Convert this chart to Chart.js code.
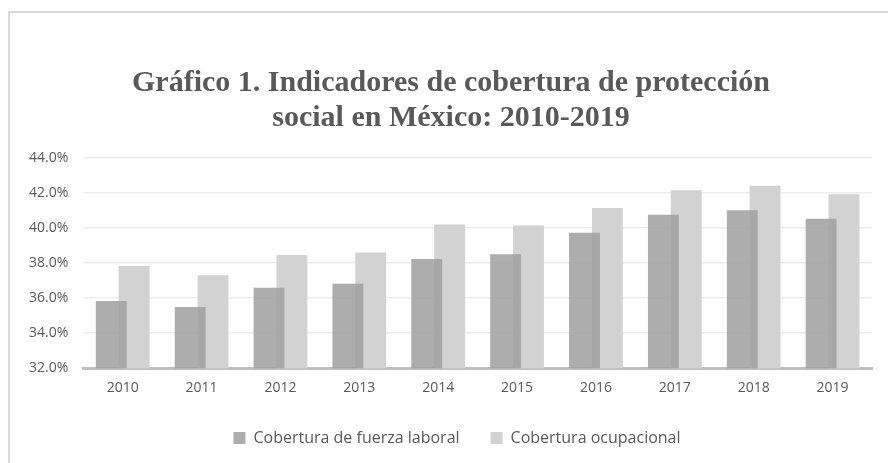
<!DOCTYPE html>
<html>
<head>
<meta charset="utf-8">
<script src="https://cdn.jsdelivr.net/npm/chart.js@4.4.1/dist/chart.umd.min.js"></script>
<style>
  html, body { margin: 0; padding: 0; background: #fff; }
  #wrap { position: relative; width: 888px; height: 463px; }
</style>
</head>
<body>
<div id="wrap"><canvas id="chart"></canvas></div>
<script>
const years = ['2010', '2011', '2012', '2013', '2014', '2015', '2016', '2017', '2018', '2019'];
const fuerzaLaboral = [35.84, 35.50, 36.60, 36.82, 38.24, 38.50, 39.73, 40.76, 41.02, 40.53];
const ocupacional = [37.83, 37.30, 38.46, 38.61, 40.20, 40.15, 41.15, 42.16, 42.41, 41.93];
const titleLines = ['Gráfico 1. Indicadores de cobertura de protección', 'social en México: 2010-2019'];
const seriesNames = ['Cobertura de fuerza laboral', 'Cobertura ocupacional'];

const TXT = '#595959';

// draws the light grey frame (top + left edge) like the original export
const framePlugin = {
    id: 'frame',
    beforeDraw(chart) {
        const c = chart.ctx;
        c.save();
        c.strokeStyle = '#d9d9d9';
        c.lineWidth = 2;
        c.beginPath();
        c.moveTo(9, chart.height);
        c.lineTo(9, 12);
        c.lineTo(chart.width, 12);
        c.stroke();
        c.restore();
    }
};

// title and legend in the original sit a bit right of the canvas centre
const boxNudge = {
    id: 'boxNudge',
    afterLayout(chart) {
        if (chart.legend) {
            chart.legend.left += 14;
            chart.legend.right += 14;
        }
        if (chart.titleBlock) {
            chart.titleBlock.left += 8;
            chart.titleBlock.right += 8;
        }
    }
};

new Chart(document.getElementById('chart'), {
    type: 'bar',
    data: {
        labels: years,
        datasets: [
            {
                label: seriesNames[0],
                data: fuerzaLaboral,
                backgroundColor: 'rgba(160,160,160,0.86)',
                categoryPercentage: 0.58,
                barPercentage: 1.35
            },
            {
                label: seriesNames[1],
                data: ocupacional,
                backgroundColor: '#d2d2d2',
                categoryPercentage: 0.58,
                barPercentage: 1.35
            }
        ]
    },
    options: {
        responsive: true,
        maintainAspectRatio: false,
        animation: false,
        layout: { padding: { left: 14, right: 16, top: 0, bottom: 7 } },
        scales: {
            x: {
                grid: { display: false },
                border: { display: true, color: '#bfbfbf', width: 3 },
                ticks: { color: TXT, font: { family: 'Open Sans', size: 14 }, padding: 3 }
            },
            y: {
                min: 32,
                max: 44,
                grid: { color: '#ededed', lineWidth: 1.5, drawTicks: false },
                border: { display: false },
                ticks: {
                    stepSize: 2,
                    padding: 15,
                    color: TXT,
                    font: { family: 'Open Sans', size: 14 },
                    callback: v => v.toFixed(1) + '%'
                }
            }
        },
        plugins: {
            title: {
                display: true,
                text: titleLines,
                color: TXT,
                font: { family: 'Liberation Serif', size: 30, weight: 'bold', lineHeight: 1.167 },
                padding: { top: 66, bottom: 22 }
            },
            legend: {
                position: 'bottom',
                labels: {
                    color: TXT,
                    boxWidth: 12,
                    boxHeight: 12,
                    padding: 31,
                    font: { family: 'Open Sans', size: 16 }
                }
            },
            tooltip: { enabled: false }
        }
    },
    plugins: [framePlugin, boxNudge]
});
</script>
</body>
</html>
